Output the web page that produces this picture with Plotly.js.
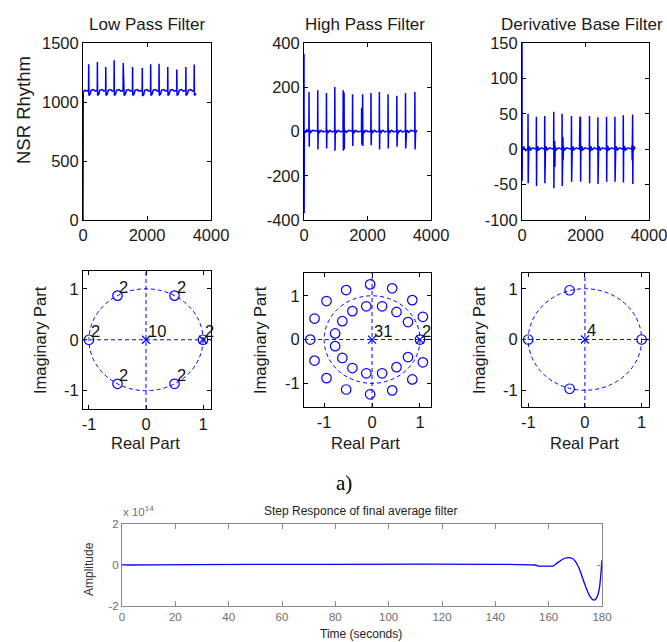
<!DOCTYPE html>
<html>
<head>
<meta charset="utf-8">
<script src="https://cdn.plot.ly/plotly-3.0.1.min.js"></script>
<style>html,body{margin:0;padding:0;background:#fff;}#chart{width:667px;height:642px;}</style>
</head>
<body>
<div id="chart"></div>
<script>
// ---------- DATA ----------
const panelTitles = ['Low Pass Filter', 'High Pass Filter', 'Derivative Base Filter'];
const rowLabel = 'NSR Rhythm';

// Low pass filtered ECG (sample index, amplitude)
const lpX = [0,8,60,120,
  153,173,178,184,218,258,328,378,
  425,445,450,456,490,530,600,650,
  687,707,712,718,752,792,862,912,
  949,969,974,980,1014,1054,1124,1174,
  1232,1252,1257,1263,1275,1280,1286,1320,1360,1430,1480,
  1525,1545,1550,1556,1590,1630,1700,1750,
  1828,1848,1853,1859,1893,1933,2003,2053,
  2090,2110,2115,2121,2155,2195,2265,2315,
  2352,2372,2377,2383,2417,2457,2527,2577,
  2624,2644,2649,2655,2689,2729,2799,2849,
  2907,2927,2932,2938,2972,3012,3082,3132,
  3190,3210,3215,3221,3255,3295,3365,3415,
  3451,3471,3476,3482,3510,3540];
const lpY = [0,1085,1100,1092,
  1098,1090,1320,1055,1065,1100,1105,1092,
  1098,1090,1340,1055,1065,1100,1105,1092,
  1098,1090,1297,1055,1065,1100,1105,1092,
  1098,1090,1353,1055,1065,1100,1105,1092,
  1098,1090,1331,1060,1080,1246,1055,1065,1100,1105,1092,
  1098,1090,1297,1055,1065,1100,1105,1092,
  1098,1090,1289,1050,1060,1100,1105,1092,
  1098,1090,1320,1055,1065,1100,1105,1092,
  1098,1090,1325,1055,1065,1100,1105,1092,
  1098,1090,1297,1055,1065,1100,1105,1092,
  1098,1090,1275,1055,1065,1100,1105,1092,
  1098,1090,1297,1055,1065,1100,1105,1092,
  1098,1090,1317,1055,1065,1070];

// High pass filtered ECG
const hpX = [0,4,12,50,90,138,153,158,164,172,188,218,268,
  413,428,433,439,447,463,493,543,603,
  687,702,707,713,721,737,767,817,877,
  951,966,971,977,985,1001,1031,1081,1141,
  1214,1229,1234,1240,1248,1256,1262,1268,1276,1296,1346,1406,
  1510,1525,1530,1536,1544,1560,1590,1640,1700,
  1790,1810,1815,1821,1830,1842,1847,1853,1861,1877,1907,1957,2017,
  2090,2105,2110,2116,2124,2140,2170,2220,2280,
  2354,2369,2374,2380,2388,2404,2434,2484,2544,
  2628,2643,2648,2654,2662,2678,2708,2758,2818,
  2903,2918,2923,2929,2937,2953,2983,3033,3093,
  3177,3192,3197,3203,3211,3218,3226,3250,3300,3360,
  3473,3488,3493,3499,3505,3515,3535,3555];
const hpY = [350,-370,5,-6,8,2,-3,179,-69,-8,6,-4,5,
  2,-3,186,-81,-8,6,-4,5,-2,
  2,-3,174,-77,-8,6,-4,5,-2,
  2,-3,201,-87,-8,6,-4,5,-2,
  2,-3,186,-87,-8,5,176,-80,-6,6,-4,5,
  2,-3,168,-66,-8,6,-4,5,-2,
  2,-3,107,-60,-5,-3,168,-66,-8,6,-4,5,-2,
  2,-3,174,-62,-8,6,-4,5,-2,
  2,-3,179,-81,-8,6,-4,5,-2,
  2,-3,168,-77,-8,6,-4,5,-2,
  2,-3,162,-69,-30,6,-4,5,-2,
  2,-3,174,-77,15,-35,-8,6,-4,5,
  2,-3,179,-81,-80,-6,5,-2];

// Derivative based filtered ECG
const dbX = [0,3,10,60,120,
  175,186,190,195,202,212,235,270,340,
  438,449,453,458,465,475,498,533,603,
  701,712,716,721,728,738,761,796,866,
  985,996,1000,1005,1012,1022,1030,1036,1045,1080,1150,
  1248,1259,1263,1268,1275,1285,1290,1296,1305,1343,1413,
  1543,1554,1558,1563,1570,1580,1603,1638,1708,
  1810,1825,1830,1838,1842,1847,1854,1864,1887,1922,1992,
  2111,2122,2126,2131,2138,2148,2171,2206,2276,
  2375,2386,2390,2395,2402,2412,2435,2470,2540,
  2648,2659,2663,2668,2675,2685,2708,2743,2813,
  2912,2923,2927,2932,2939,2949,2972,3007,3077,
  3175,3186,3190,3195,3202,3212,3235,3270,3340,
  3455,3465,3470,3481,3485,3490,3497,3507,3530,3560];
const dbY = [150,-45,0,3,-2,
  0,3,50,-48,5,-3,4,-1,2,
  0,3,46,-52,5,-3,4,-1,2,
  0,3,47,-48,5,-3,4,-1,2,
  0,3,53,-55,5,-3,12,-25,4,-1,2,
  0,3,50,-52,5,-3,17,-15,4,-1,2,
  0,3,47,-46,5,-3,4,-1,2,
  0,44,-12,3,46,-46,5,-3,4,-1,2,
  0,3,47,-48,5,-3,4,-1,2,
  0,3,45,-49,5,-3,4,-1,2,
  0,3,46,-46,5,-3,4,-1,2,
  0,3,46,-46,5,-3,4,-1,2,
  0,3,48,-47,5,-3,4,-1,2,
  0,5,-16,3,49,-49,5,-3,4,0];

// Pole-zero data
const lpZeroRe = [0.5,-0.5,-1,-0.5,0.5,1];
const lpZeroIm = [0.866,0.866,0,-0.866,-0.866,0];
const lpPoleRe = [0,1];
const lpPoleIm = [0,0];
const lpMultRe = [0.5,-0.5,-1,-0.5,0.5,1,0];
const lpMultIm = [0.866,0.866,0,-0.866,-0.866,0,0];
const lpMultTxt = ['2','2','2','2','2','2','10'];

const hpZeroRe = [-1.29,-1.20,-0.95,-0.54,-0.04,0.42,0.84,1.06,1.06,0.84,0.42,-0.04,-0.54,-0.95,-1.20,
  -0.77,-0.62,-0.41,-0.12,0.21,0.51,0.75,0.75,0.51,0.21,-0.12,-0.41,-0.62,-0.77,1];
const hpZeroIm = [0,0.48,0.88,1.13,1.26,1.17,0.90,0.52,-0.52,-0.91,-1.16,-1.25,-1.14,-0.88,-0.48,
  0.14,0.42,0.65,0.76,0.76,0.63,0.40,-0.40,-0.63,-0.77,-0.77,-0.65,-0.42,-0.15,0];
const hpPoleRe = [0,1];
const hpPoleIm = [0,0];
const hpMultRe = [0,1];
const hpMultIm = [0,0];
const hpMultTxt = ['31','2'];

const dbZeroRe = [-1,1,-0.27,-0.27];
const dbZeroIm = [0,0,0.97,-0.97];
const dbPoleRe = [0];
const dbPoleIm = [0];
const dbMultRe = [0];
const dbMultIm = [0];
const dbMultTxt = ['4'];

// Step response (time s, amplitude in units of 1e14)
const stepT = [0,155,156,158,161.6,163,164.5,166,167.5,168.8,170,171,171.9,173,174.4,175.6,176.5,177.5,178.4,179.1,179.6,180];
const stepA = [0,0,-0.05,-0.05,-0.05,0.08,0.22,0.33,0.36,0.33,0.18,-0.05,-0.33,-0.74,-1.23,-1.56,-1.69,-1.69,-1.48,-1.07,-0.41,0.25];

// Tick values / labels
const lpYTicks = [0,500,1000,1500];
const hpYTicks = [-400,-200,0,200,400];
const dbYTicks = [-100,-50,0,50,100,150];
const sigXTicks = [0,2000,4000];
const pzTicks = [-1,0,1];
const stepXTicks = [0,20,40,60,80,100,120,140,160,180];
const stepYTicks = [-2,0,2];
const lbl = v => String(v); // hyphen-minus like MATLAB

// ---------- LAYOUT ----------
const W = 667, H = 642;
const px = x => x / W;
const py = y => 1 - y / H;
const BLUE = '#0000ff';
const FONT = 'Liberation Sans, Arial, sans-serif';
const TXT = '#1a1a1a';

function ax(domain, range, ticks, anchor, opts) {
  return Object.assign({
    domain: domain, range: range, anchor: anchor,
    tickmode: 'array', tickvals: ticks, ticktext: ticks.map(lbl),
    ticks: 'inside', ticklen: 4, tickwidth: 1, tickcolor: '#000',
    showline: true, linecolor: '#000', linewidth: 1, mirror: 'ticks',
    showgrid: false, zeroline: false, fixedrange: true,
    ticklabeloverflow: 'allow',
    tickfont: {family: FONT, size: 16.5, color: TXT}
  }, opts || {});
}

const colX = [[83,211],[304,431],[522,649]];
const topY = [43,220];
const pzY = [[271,409],[273,407],[273,407]];
const xd = i => [px(colX[i][0]), px(colX[i][1])];

const layout = {
  width: W, height: H, autosize: false,
  margin: {l:0, r:0, t:0, b:0},
  paper_bgcolor: '#fff', plot_bgcolor: '#fff',
  showlegend: false,
  xaxis:  ax(xd(0), [0,4000], sigXTicks, 'y'),
  yaxis:  ax([py(topY[1]), py(topY[0])], [0,1500], lpYTicks, 'x'),
  xaxis2: ax(xd(1), [0,4000], sigXTicks, 'y2'),
  yaxis2: ax([py(topY[1]), py(topY[0])], [-400,400], hpYTicks, 'x2'),
  xaxis3: ax(xd(2), [0,4000], sigXTicks, 'y3'),
  yaxis3: ax([py(topY[1]), py(topY[0])], [-100,150], dbYTicks, 'x3'),
  xaxis4: ax(xd(0), [-1.105,1.14], pzTicks, 'y4'),
  yaxis4: ax([py(pzY[0][1]), py(pzY[0][0])], [-1.36,1.35], pzTicks, 'x4'),
  xaxis5: ax(xd(1), [-1.42,1.23], pzTicks, 'y5'),
  yaxis5: ax([py(pzY[1][1]), py(pzY[1][0])], [-1.54,1.52], pzTicks, 'x5'),
  xaxis6: ax(xd(2), [-1.11,1.13], pzTicks, 'y6'),
  yaxis6: ax([py(pzY[2][1]), py(pzY[2][0])], [-1.33,1.31], pzTicks, 'x6'),
  xaxis7: ax([px(122), px(602)], [0,180], stepXTicks, 'y7', {
    linecolor:'#8a8a8a', tickcolor:'#8a8a8a', ticklen:5,
    tickfont:{family:FONT, size:11.5, color:'#6e6e6e'}}),
  yaxis7: ax([py(606), py(524)], [-2,2], stepYTicks, 'x7', {
    linecolor:'#8a8a8a', tickcolor:'#8a8a8a', ticklen:5,
    tickfont:{family:FONT, size:11.5, color:'#6e6e6e'}}),
  shapes: [],
  annotations: []
};

// pole-zero guides: unit circle + dashed axes lines
const DASH = '4px,3px';
['4','5','6'].forEach(n => {
  layout.shapes.push({type:'circle', xref:'x'+n, yref:'y'+n, x0:-1, y0:-1, x1:1, y1:1,
    line:{color:BLUE, width:1, dash:DASH}});
  layout.shapes.push({type:'line', xref:'x'+n, yref:'y'+n+' domain', x0:0, x1:0, y0:0, y1:1,
    line:{color:BLUE, width:1, dash:DASH}});
  layout.shapes.push({type:'line', xref:'x'+n+' domain', yref:'y'+n, x0:0, x1:1, y0:0, y1:0,
    line:{color:BLUE, width:1, dash:DASH}});
});

function ann(text, x, y, size, opts) {
  layout.annotations.push(Object.assign({
    text: text, xref:'paper', yref:'paper', x: px(x), y: py(y),
    xanchor:'center', yanchor:'middle', showarrow:false,
    font:{family:FONT, size:size, color:TXT}
  }, opts || {}));
}
ann(panelTitles[0], 147, 24, 17);
ann(panelTitles[1], 365, 24, 17);
ann(panelTitles[2], 582, 24, 17);
ann(rowLabel, 23, 110, 18.5, {textangle:-90});
[40, 260, 479].forEach(x => ann('Imaginary Part', x, 340, 16.5, {textangle:-90}));
[145, 365, 584].forEach(x => ann('Real Part', x, 443, 16.5));
ann('a)', 344, 483, 21, {font:{family:'Liberation Serif, DejaVu Serif, serif', size:21, color:'#000'}});
ann('Step Responce of final average filter', 360, 511, 12, {font:{family:FONT, size:12, color:'#222'}});
ann('x 10<sup>14</sup>', 121, 511, 11.5, {xanchor:'left', font:{family:FONT, size:11.5, color:'#6e6e6e'}});
ann('Amplitude', 89, 569, 12, {textangle:-90, font:{family:FONT, size:12, color:'#333'}});
ann('Time (seconds)', 361, 634, 12, {font:{family:FONT, size:12, color:'#222'}});

function multLabels(n, re, im, txt) {
  re.forEach((r, i) => layout.annotations.push({
    text: txt[i], xref:'x'+n, yref:'y'+n, x:r, y:im[i],
    xanchor:'left', yanchor:'bottom', xshift:0, yshift:-2, showarrow:false,
    font:{family:FONT, size:16.5, color:'#111'}
  }));
}
multLabels('4', lpMultRe, lpMultIm, lpMultTxt);
multLabels('5', hpMultRe, hpMultIm, hpMultTxt);
multLabels('6', dbMultRe, dbMultIm, dbMultTxt);

// ---------- TRACES ----------
const sig = (x, y, n) => ({type:'scatter', mode:'lines', x:x, y:y, xaxis:'x'+n, yaxis:'y'+n,
  line:{color:BLUE, width:1.5}, hoverinfo:'skip'});
const zeros = (re, im, n) => ({type:'scatter', mode:'markers', x:re, y:im, xaxis:'x'+n, yaxis:'y'+n,
  marker:{symbol:'circle-open', size:9.5, color:BLUE, line:{width:1.2, color:BLUE}}, hoverinfo:'skip'});
const poles = (re, im, n) => ({type:'scatter', mode:'markers', x:re, y:im, xaxis:'x'+n, yaxis:'y'+n,
  marker:{symbol:'x-thin-open', size:8, color:BLUE, line:{width:1.2, color:BLUE}}, hoverinfo:'skip'});

const traces = [
  sig(lpX, lpY, ''), sig(hpX, hpY, '2'), sig(dbX, dbY, '3'),
  zeros(lpZeroRe, lpZeroIm, '4'), poles(lpPoleRe, lpPoleIm, '4'),
  zeros(hpZeroRe, hpZeroIm, '5'), poles(hpPoleRe, hpPoleIm, '5'),
  zeros(dbZeroRe, dbZeroIm, '6'), poles(dbPoleRe, dbPoleIm, '6'),
  {type:'scatter', mode:'lines', x:stepT, y:stepA, xaxis:'x7', yaxis:'y7',
   line:{color:BLUE, width:1.3, shape:'spline', smoothing:0.5}, hoverinfo:'skip'}
];

Plotly.newPlot('chart', traces, layout, {staticPlot:true, displayModeBar:false});
</script>
</body>
</html>
